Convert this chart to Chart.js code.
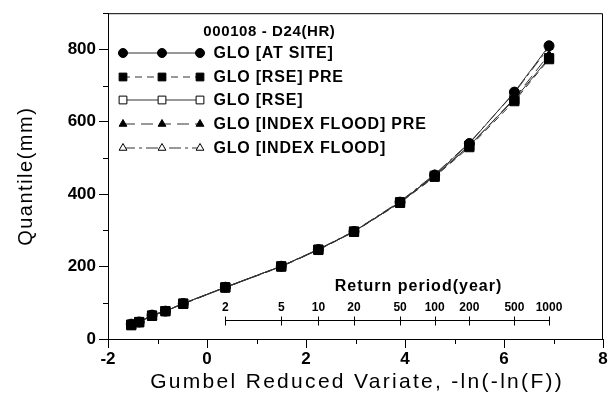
<!DOCTYPE html>
<html>
<head>
<meta charset="utf-8">
<script src="https://cdn.jsdelivr.net/npm/chart.js@4/dist/chart.umd.min.js"></script>
<style>
  html, body { margin: 0; padding: 0; background: #fff; }
  #wrap { width: 611px; height: 410px; }
</style>
</head>
<body>
<div id="wrap"><canvas id="quantileChart"></canvas></div>
<script>
// Gumbel reduced variate of each plotted point (T = 1.01 ... 1000 years)
const reducedVariate = [-1.53, -1.37, -1.11, -0.84, -0.48, 0.37, 1.50, 2.25, 2.97, 3.90, 4.60, 5.30, 6.21, 6.91];

// Quantiles (mm)
const gloAtSite       = [41, 47, 66, 77, 98, 143, 201, 247, 297, 378, 453, 540, 682, 810];
const gloRsePre       = [38, 46, 64, 77, 97, 142, 200, 246, 296, 376, 448, 530, 657, 773];
const gloRse          = [40, 47, 65, 77, 98, 143, 201, 247, 297, 378, 451, 534, 662, 776];
const gloIndexPre     = [39, 47, 65, 77, 97, 142, 200, 246, 297, 377, 450, 533, 665, 786];
const gloIndexFlood   = [40, 48, 66, 78, 98, 143, 201, 248, 298, 380, 455, 542, 680, 806];

// secondary "Return period" axis
const returnPeriods = ['2', '5', '10', '20', '50', '100', '200', '500', '1000'];
const returnPeriodX = [0.37, 1.50, 2.25, 2.97, 3.90, 4.60, 5.30, 6.21, 6.91];

const xTicks = [-2, 0, 2, 4, 6, 8];
const yTicks = [0, 200, 400, 600, 800];

const FONT = 'Arial, "Liberation Sans", sans-serif';

function pts(values) {
    return values.map((v, i) => ({ x: reducedVariate[i], y: v }));
}

const series = [
    { label: 'GLO [AT SITE]', values: gloAtSite, style: 'circle', fill: '#000', dash: [], order: 1 },
    { label: 'GLO [RSE] PRE', values: gloRsePre, style: 'rect', fill: '#000', dash: [7, 5], order: 0 },
    { label: 'GLO [RSE]', values: gloRse, style: 'rect', fill: '#fff', dash: [], order: 3 },
    { label: 'GLO [INDEX FLOOD] PRE', values: gloIndexPre, style: 'triangle', fill: '#000', dash: [12, 6], order: 2 },
    { label: 'GLO [INDEX FLOOD]', values: gloIndexFlood, style: 'triangle', fill: '#fff', dash: [12, 4, 3, 4], order: 4 }
];

const radiusFor = s => s === 'circle' ? 5 : (s === 'rect' ? 6.5 : 4.5);

const datasets = series.map(s => ({
    label: s.label,
    data: pts(s.values),
    showLine: true,
    borderColor: '#333',
    borderWidth: 1,
    borderDash: s.dash,
    pointStyle: s.style,
    pointRadius: radiusFor(s.style),
    pointBackgroundColor: s.fill,
    pointBorderColor: '#000',
    pointBorderWidth: 1,
    order: s.order
}));

function spacedText(ctx, text, x, y, spacing) {
    ctx.letterSpacing = spacing + 'px';
    ctx.fillText(text, x + spacing / 2, y);
    ctx.letterSpacing = '0px';
}

// frame, minor ticks, axis titles, return period axis and the legend
const extras = {
    id: 'extras',
    afterDraw(chart) {
        const ctx = chart.ctx;
        const a = chart.chartArea;
        const xs = chart.scales.x, ys = chart.scales.y;
        ctx.save();
        ctx.strokeStyle = '#000';
        ctx.lineWidth = 1;
        // box
        ctx.beginPath();
        ctx.moveTo(a.left, a.top + 0.5);
        ctx.lineTo(a.right - 0.5, a.top + 0.5);
        ctx.lineTo(a.right - 0.5, a.bottom);
        ctx.stroke();
        // minor ticks
        ctx.beginPath();
        for (let v = -1; v < 8; v += 2) {
            const px = Math.round(xs.getPixelForValue(v)) + 0.5;
            ctx.moveTo(px, a.bottom);
            ctx.lineTo(px, a.bottom + 5);
        }
        for (let v = 100; v <= 900; v += 200) {
            const py = Math.round(ys.getPixelForValue(v)) + 0.5;
            ctx.moveTo(a.left, py);
            ctx.lineTo(a.left - 5, py);
        }
        ctx.stroke();

        ctx.fillStyle = '#000';
        ctx.textAlign = 'center';
        ctx.textBaseline = 'middle';

        // axis titles
        ctx.font = '21px ' + FONT;
        spacedText(ctx, 'Gumbel Reduced Variate, -ln(-ln(F))', 356, 382, 2.3);
        ctx.save();
        ctx.translate(26, 177);
        ctx.rotate(-Math.PI / 2);
        ctx.font = '20px ' + FONT;
        spacedText(ctx, 'Quantile(mm)', 0, 0, 1.5);
        ctx.restore();

        // return period axis
        const lineY = 320.5;
        const x0 = xs.getPixelForValue(returnPeriodX[0]);
        const x1 = xs.getPixelForValue(returnPeriodX[returnPeriodX.length - 1]);
        ctx.beginPath();
        ctx.moveTo(x0, lineY);
        ctx.lineTo(x1, lineY);
        returnPeriodX.forEach(v => {
            const px = Math.round(xs.getPixelForValue(v)) + 0.5;
            ctx.moveTo(px, lineY - 4);
            ctx.lineTo(px, lineY + 5);
        });
        ctx.stroke();
        ctx.font = 'bold 12px ' + FONT;
        returnPeriodX.forEach((v, i) => {
            ctx.fillText(returnPeriods[i], xs.getPixelForValue(v), 308);
        });
        ctx.font = 'bold 16px ' + FONT;
        spacedText(ctx, 'Return period(year)', 418, 287, 1);

        // legend
        ctx.font = 'bold 15px ' + FONT;
        ctx.textAlign = 'left';
        spacedText(ctx, '000108 - D24(HR)', 203, 32, 0.6);
        const rowY = [53, 77, 100, 124, 148];
        const mx = [123, 162, 200];
        ctx.font = 'bold 16px ' + FONT;
        series.forEach((s, i) => {
            const y = rowY[i];
            ctx.save();
            ctx.strokeStyle = '#333';
            ctx.setLineDash(s.dash);
            ctx.beginPath();
            ctx.moveTo(mx[0], y);
            ctx.lineTo(mx[2], y);
            ctx.stroke();
            ctx.restore();
            mx.forEach(x => {
                ctx.fillStyle = s.fill;
                ctx.strokeStyle = '#000';
                Chart.helpers.drawPoint(ctx, { pointStyle: s.style, radius: s.style === 'rect' ? 5.5 : 4.5, rotation: 0, borderWidth: 1 }, x, y);
            });
            ctx.fillStyle = '#000';
            spacedText(ctx, s.label, 213, y + 1, 0.8);
        });
        ctx.restore();
    }
};

const config = {
    type: 'scatter',
    data: { datasets: datasets },
    options: {
        responsive: false,
        animation: false,
        layout: { padding: { left: 0, right: 8, top: 10, bottom: 0 } },
        plugins: {
            legend: { display: false },
            tooltip: { enabled: false }
        },
        scales: {
            x: {
                type: 'linear',
                min: -2,
                max: 8,
                afterBuildTicks: s => { s.ticks = xTicks.map(v => ({ value: v })); },
                afterFit: s => { s.height = 71; },
                grid: { drawOnChartArea: false, tickLength: 9, color: '#000', tickColor: '#000' },
                border: { color: '#000', width: 1 },
                ticks: { color: '#000', padding: 1, font: { family: FONT, size: 17, weight: 'bold' } }
            },
            y: {
                type: 'linear',
                min: 0,
                max: 900,
                afterBuildTicks: s => { s.ticks = yTicks.map(v => ({ value: v })); },
                afterFit: s => { s.width = 108; },
                grid: { drawOnChartArea: false, tickLength: 9, color: '#000', tickColor: '#000' },
                border: { color: '#000', width: 1 },
                ticks: { color: '#000', padding: 3, font: { family: FONT, size: 17, weight: 'bold' } }
            }
        }
    },
    plugins: [extras]
};

window.onload = () => {
    const canvas = document.getElementById('quantileChart');
    canvas.width = 611;
    canvas.height = 410;
    new Chart(canvas.getContext('2d'), config);
};
</script>
</body>
</html>
